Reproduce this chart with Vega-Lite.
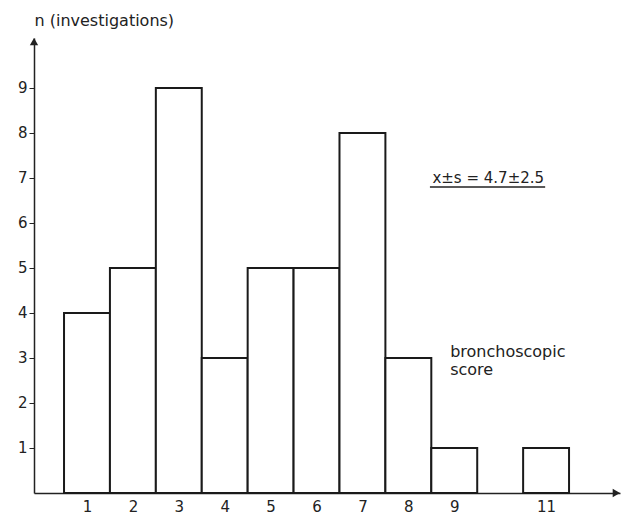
{
  "$schema": "https://vega.github.io/schema/vega-lite/v6.json",
  "width": 586,
  "height": 455,
  "autosize": {"type": "none"},
  "padding": {"left": 34, "top": 38, "right": 2, "bottom": 24},
  "background": "white",
  "config": {
    "view": {"stroke": null},
    "font": "DejaVu Sans",
    "axis": {"grid": false, "domainColor": "#222", "domainWidth": 1.5, "tickColor": "#222", "labelColor": "#222", "labelFont": "DejaVu Sans", "labelFontSize": 15, "titleFont": "DejaVu Sans"}
  },
  "datasets": {
    "bars": [
      {"score": 1, "n": 4},
      {"score": 2, "n": 5},
      {"score": 3, "n": 9},
      {"score": 4, "n": 3},
      {"score": 5, "n": 5},
      {"score": 6, "n": 5},
      {"score": 7, "n": 8},
      {"score": 8, "n": 3},
      {"score": 9, "n": 1},
      {"score": 11, "n": 1}
    ]
  },
  "layer": [
    {
      "data": {"name": "bars"},
      "transform": [
        {"calculate": "datum.score - 0.5", "as": "x0"},
        {"calculate": "datum.score + 0.5", "as": "x1"},
        {"calculate": "0", "as": "base"}
      ],
      "mark": {"type": "rect", "fill": "white", "stroke": "#1a1a1a", "strokeWidth": 2},
      "encoding": {
        "x": {"field": "x0", "type": "quantitative", "scale": {"domain": [-0.154, 12.61], "nice": false, "zero": false},
          "axis": {"title": null, "values": [1,2,3,4,5,6,7,8,9,11], "ticks": false, "labelPadding": 6, "format": "d"}},
        "x2": {"field": "x1"},
        "y": {"field": "n", "type": "quantitative", "scale": {"domain": [0, 10.11], "nice": false},
          "axis": {"title": "n (investigations)", "titleAngle": 0, "titleAlign": "left", "titleBaseline": "middle", "titleX": 0, "titleY": -18, "titleFontSize": 16, "titleFontWeight": "normal", "titleColor": "#222",
            "values": [1,2,3,4,5,6,7,8,9], "tickSize": 5, "labelPadding": 2, "format": "d"}},
        "y2": {"field": "base"}
      }
    },
    {
      "data": {"values": [{"px": -0.154, "py": 10.03}]},
      "mark": {"type": "point", "shape": "triangle-up", "filled": true, "color": "#222", "size": 70, "opacity": 1},
      "encoding": {"x": {"field": "px", "type": "quantitative"}, "y": {"field": "py", "type": "quantitative"}}
    },
    {
      "data": {"values": [{"px": 12.53, "py": 0}]},
      "mark": {"type": "point", "shape": "triangle-right", "filled": true, "color": "#222", "size": 70, "opacity": 1},
      "encoding": {"x": {"field": "px", "type": "quantitative"}, "y": {"field": "py", "type": "quantitative"}}
    },
    {
      "data": {"values": [{"label": "x±s = 4.7±2.5", "px": 9.74, "py": 7.0}]},
      "mark": {"type": "text", "align": "center", "baseline": "middle", "fontSize": 15, "color": "#222"},
      "encoding": {"x": {"field": "px", "type": "quantitative"}, "y": {"field": "py", "type": "quantitative"}, "text": {"field": "label"}}
    },
    {
      "data": {"values": [{"a": 8.47, "b": 10.98, "py": 6.8}]},
      "mark": {"type": "rule", "color": "#222", "strokeWidth": 1.5},
      "encoding": {"x": {"field": "a", "type": "quantitative"}, "x2": {"field": "b"}, "y": {"field": "py", "type": "quantitative"}}
    },
    {
      "data": {"values": [{"label": ["bronchoscopic", "score"], "px": 8.91, "py": 3.13}]},
      "mark": {"type": "text", "align": "left", "baseline": "middle", "fontSize": 16, "lineHeight": 18, "color": "#222"},
      "encoding": {"x": {"field": "px", "type": "quantitative"}, "y": {"field": "py", "type": "quantitative"}, "text": {"field": "label"}}
    }
  ]
}
